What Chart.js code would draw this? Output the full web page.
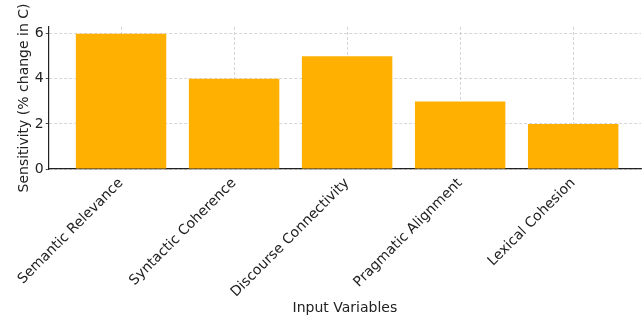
<html>
<head>
  <script src="https://cdn.jsdelivr.net/npm/chart.js@4"></script>
  <style>
    body { margin: 0; background: #fff; }
    .wrap { width: 643px; height: 320px; }
  </style>
</head>
<body>
<div class="wrap"><canvas id="myChart" width="643" height="320"></canvas></div>
<script>
var categories = ["Semantic Relevance", "Syntactic Coherence", "Discourse Connectivity", "Pragmatic Alignment", "Lexical Cohesion"];
var sensitivity = [6, 4, 5, 3, 2];
var yTicks = [0, 2, 4, 6];

var font = { family: "DejaVu Sans", size: 14 };
var gridDash = [3, 2];

var points = sensitivity.map(function(v, i) { return { x: i, y: v }; });

new Chart(document.getElementById("myChart"), {
  type: "bar",
  data: {
    datasets: [{
      data: points,
      backgroundColor: "#FFB000",
      borderWidth: 0,
      barPercentage: 1,
      categoryPercentage: 0.8
    }]
  },
  options: {
    responsive: false,
    animation: false,
    layout: { padding: { top: 27, right: 2, left: 16, bottom: 1 } },
    plugins: { legend: { display: false }, tooltip: { enabled: false } },
    scales: {
      x: {
        type: "linear",
        min: -0.64,
        max: 4.6,
        offset: false,
        z: 1,
        afterBuildTicks: function(scale) {
          scale.ticks = categories.map(function(c, i) { return { value: i }; });
        },
        // chart.js caps the bottom axis at half the height, so set it by hand
        afterFit: function(scale) { scale.height = 150; },
        ticks: {
          color: "#222",
          font: font,
          minRotation: 45,
          maxRotation: 45,
          padding: 10,
          callback: function(v, i) { return categories[i]; }
        },
        // negative length -> tick marks point up into the plot
        grid: { offset: false, color: "#cccccc", lineWidth: 0.8, tickColor: "#222", tickLength: -4, tickBorderDash: [] },
        border: { color: "#222", width: 1.2, dash: gridDash },
        title: { display: true, text: "Input Variables", color: "#222", font: font, padding: { top: 9, bottom: 2 } }
      },
      y: {
        min: 0,
        max: 6.3,
        z: 1,
        afterBuildTicks: function(scale) {
          scale.ticks = yTicks.map(function(v) { return { value: v }; });
        },
        ticks: { color: "#222", font: font, padding: 2 },
        grid: { color: "#cccccc", lineWidth: 0.8, tickColor: "#222", tickLength: 3, tickBorderDash: [] },
        border: { color: "#222", width: 1.2, dash: gridDash },
        title: { display: true, text: "Sensitivity (% change in C)", color: "#222", font: font, padding: { top: 0, bottom: 0 } }
      }
    }
  }
});
</script>
</body>
</html>
